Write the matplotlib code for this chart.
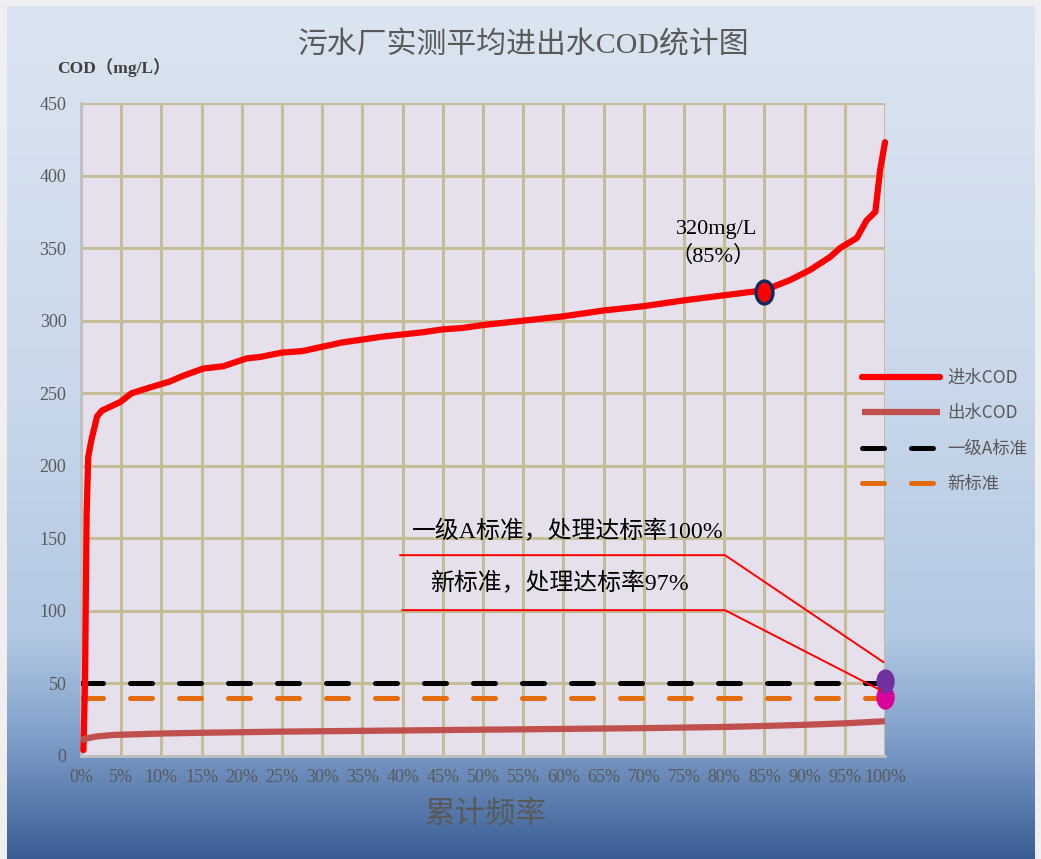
import numpy as np
import matplotlib.pyplot as plt
from matplotlib.colors import LinearSegmentedColormap
from matplotlib.markers import MarkerStyle
from matplotlib.transforms import Affine2D

plt.rcParams['font.family'] = ['Liberation Serif', 'Noto Sans CJK SC', 'DejaVu Sans']

# cumulative frequency (%) vs influent COD (mg/L), sorted
inf_pct = [0.3, 0.5, 0.7, 0.9, 1.3, 2.0, 2.6, 4.9, 6.3, 8.6, 11.0, 12.7, 15.2,
           17.7, 20.6, 22.3, 25, 27.5, 30, 32.5, 35, 37.5, 40, 42.5, 45, 47.5,
           50, 55, 60, 65, 70, 75, 80, 85, 88.2, 90.7, 93.2, 94.4, 96.5, 97.7,
           98.8, 99.4, 100]
inf_cod = [4, 52, 167, 206, 218, 234, 238, 244, 250, 254, 258, 262, 267,
           268.6, 274, 275, 278, 279, 282, 285, 287, 289, 290.5, 292, 294, 295,
           297, 300, 303, 307, 310, 314, 317.5, 321, 328, 335, 344, 350, 357, 369,
           375, 404, 423]

# effluent COD (mg/L)
eff_pct = [0, 1, 2, 4, 10, 15, 25, 40, 55, 70, 80, 85, 90, 95, 100]
eff_cod = [11, 12.5, 13.5, 14.5, 15.5, 16, 16.8, 17.6, 18.4, 19.2, 20, 20.7, 21.5, 22.5, 24]

level_a = 50      # 一级A标准
new_std = 40      # 新标准

mark85 = (85, 320)
mark_a = (100, 51.5)
mark_new = (100, 41)

x_ticks = list(range(0, 101, 5))
x_labels = [f'{t}%' for t in x_ticks]
y_ticks = list(range(0, 451, 50))

W, H = 1041, 859
fig = plt.figure(figsize=(W / 100, H / 100), dpi=100)
fig.patch.set_facecolor('#EFEFEF')

# background gradient
bg = fig.add_axes([7 / W, 0, (1035 - 7) / W, (H - 6) / H])
bg.axis('off')
cmap = LinearSegmentedColormap.from_list('bg', [
    (0.0, '#DBE5F1'), (0.45, '#C9D8EA'), (0.74, '#B2C8E3'),
    (0.86, '#7F9FCA'), (1.0, '#3A5E94')])
grad = np.linspace(0, 1, 512).reshape(-1, 1)
bg.imshow(grad, aspect='auto', cmap=cmap, extent=[0, 1, 0, 1], origin='upper')

ax = fig.add_axes([81 / W, 1 - 756 / H, (885 - 81) / W, (756 - 103) / H])
ax.set_facecolor('#E6E0EC')
ax.set_xlim(0, 100)
ax.set_ylim(0, 450)
ax.set_xticks(x_ticks)
ax.set_xticklabels(x_labels)
ax.set_yticks(y_ticks)
ax.grid(True, color='#C4BD97', linewidth=2.2)
ax.set_axisbelow(True)
for s in ['top', 'right']:
    ax.spines[s].set_visible(False)
for s in ['left', 'bottom']:
    ax.spines[s].set_color('#BFBFBF')
    ax.spines[s].set_linewidth(2)
ax.tick_params(length=0, labelsize=13, colors='#595959')
ax.tick_params(axis='y', pad=10.5)
ax.tick_params(axis='x', pad=9)

ax.plot(inf_pct, inf_cod, color='#FF0000', lw=4.5, solid_capstyle='round',
        solid_joinstyle='round', label='进水COD', zorder=4, clip_on=False)
ax.plot(eff_pct, eff_cod, color='#C0504D', lw=4.5, solid_capstyle='butt',
        label='出水COD', zorder=4)
ax.plot([0, 100], [level_a, level_a], color='black', lw=3.6,
        dashes=(4.4, 5.4), dash_capstyle='round', label='一级A标准', zorder=3)
ax.plot([0, 100], [new_std, new_std], color='#E46C0A', lw=3.6,
        dashes=(4.4, 5.4), dash_capstyle='round', label='新标准', zorder=3)

# callout lines
ax.plot([39.7, 80.1, 99.8], [138.4, 138.4, 64.7], color='#FF0000', lw=1.4, zorder=5)
ax.plot([40.0, 80.1, 99.4], [100.5, 100.5, 45.5], color='#FF0000', lw=1.4, zorder=7)

ell = MarkerStyle('o', transform=Affine2D().scale(0.74, 1.0))
ax.plot(*mark85, marker=ell, ms=16.5, mfc='#FF0000', mec='#0F2B5B', mew=2.4,
        zorder=6, clip_on=False)
ax.plot(*mark_new, marker=ell, ms=16.5, mfc='#D9009B', mec='#D9009B',
        zorder=5, clip_on=False)
ax.plot(*mark_a, marker=ell, ms=16.5, mfc='#7030A0', mec='#7030A0',
        zorder=6, clip_on=False)

ax.text(79.0, 362.5, '320mg/L', ha='center', va='center', fontsize=16, color='black')
ax.text(78.6, 344.6, '（85%）', ha='center', va='center', fontsize=16, color='black')
ax.text(41.2, 154.3, '一级A标准，处理达标率100%', ha='left', va='center',
        fontsize=17.2, color='black')
ax.text(43.4, 119, '新标准，处理达标率97%', ha='left', va='center',
        fontsize=17.2, color='black')

leg = ax.legend(loc='center left', bbox_to_anchor=(862 / W, 1 - 431 / H),
                bbox_transform=fig.transFigure, frameon=False, borderpad=0,
                borderaxespad=0, handlelength=4.5, handletextpad=0.4,
                labelspacing=1.0,
                prop={'family': ['Noto Sans CJK SC'], 'size': 12.5})
for t in leg.get_texts():
    t.set_color('#595959')

fig.text(524 / W, 1 - 45 / H, '污水厂实测平均进出水COD统计图', ha='center', va='center',
         fontsize=21.5, color='#595959')
fig.text(57 / W, 1 - 68 / H, 'COD（mg/L）', ha='left', va='center',
         fontsize=12.5, weight='bold', color='#404040')
fig.text(485 / W, 1 - 815 / H, '累计频率', ha='center', va='center',
         fontsize=22, color='#595959')

fig.savefig('out.png', dpi=100, facecolor=fig.get_facecolor())
